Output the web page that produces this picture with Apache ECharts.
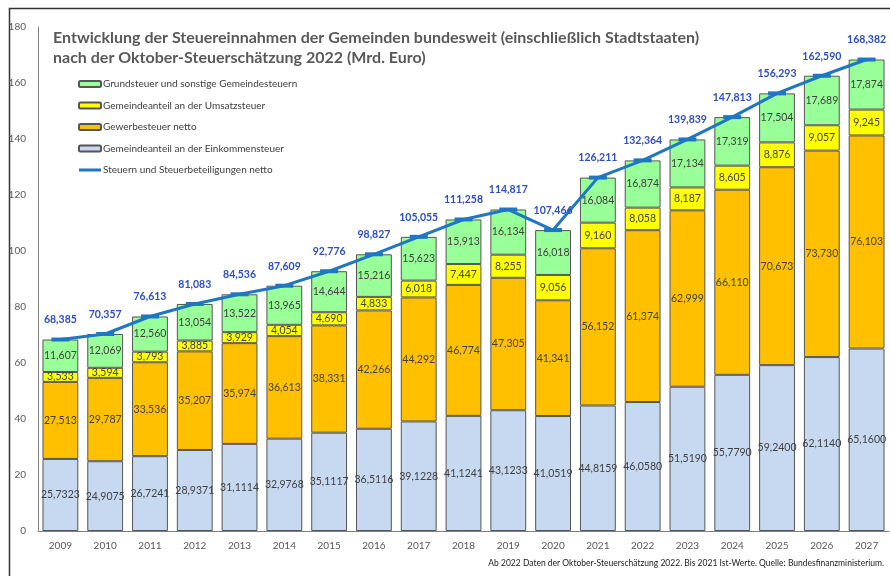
<!DOCTYPE html>
<html>
<head>
<meta charset="utf-8">
<script src="https://cdn.jsdelivr.net/npm/echarts@6/dist/echarts.min.js"></script>
<style>
  html, body { margin: 0; padding: 0; background: #fff; }
  #chart { width: 890px; height: 576px; }
</style>
</head>
<body>
<div id="chart"></div>
<script>
// Jahre
var years = ["2009", "2010", "2011", "2012", "2013", "2014", "2015", "2016", "2017", "2018",
  "2019", "2020", "2021", "2022", "2023", "2024", "2025", "2026", "2027"];
// Gemeindeanteil an der Einkommensteuer
var einkommen = [25.7323, 24.9075, 26.7241, 28.9371, 31.1114, 32.9768, 35.1117, 36.5116, 39.1228, 41.1241,
  43.1233, 41.0519, 44.8159, 46.0580, 51.5190, 55.7790, 59.2400, 62.1140, 65.1600];
// Gewerbesteuer netto
var gewerbe = [27.513, 29.787, 33.536, 35.207, 35.974, 36.613, 38.331, 42.266, 44.292, 46.774,
  47.305, 41.341, 56.152, 61.374, 62.999, 66.110, 70.673, 73.730, 76.103];
// Gemeindeanteil an der Umsatzsteuer
var umsatz = [3.533, 3.594, 3.793, 3.885, 3.929, 4.054, 4.690, 4.833, 6.018, 7.447,
  8.255, 9.056, 9.160, 8.058, 8.187, 8.605, 8.876, 9.057, 9.245];
// Grundsteuer und sonstige Gemeindesteuern
var grund = [11.607, 12.069, 12.560, 13.054, 13.522, 13.965, 14.644, 15.216, 15.623, 15.913,
  16.134, 16.018, 16.084, 16.874, 17.134, 17.319, 17.504, 17.689, 17.874];
// Steuern und Steuerbeteiligungen netto
var gesamt = [68.385, 70.357, 76.613, 81.083, 84.536, 87.609, 92.776, 98.827, 105.055, 111.258,
  114.817, 107.466, 126.211, 132.364, 139.839, 147.813, 156.293, 162.590, 168.382];

var yTicks = [0, 20, 40, 60, 80, 100, 120, 140, 160, 180];

var FONT = "Lato";

function fmt(v, d) {
  return v.toFixed(d).replace(".", ",");
}

function barSeries(name, data, color, dec) {
  return {
    name: name,
    type: "bar",
    stack: "summe",
    data: data,
    barWidth: "80%",
    itemStyle: { color: color, borderColor: "#555", borderWidth: 1 },
    label: {
      show: true,
      position: "inside",
      color: "#404040",
      fontFamily: FONT,
      fontSize: 10.5,
      formatter: function (p) { return fmt(p.value, dec); }
    }
  };
}

var chart = echarts.init(document.getElementById("chart"));
var option = {
  animation: false,
  textStyle: { fontFamily: FONT },
  title: {
    text: "Entwicklung der Steuereinnahmen der Gemeinden bundesweit (einschließlich Stadtstaaten)\nnach der Oktober-Steuerschätzung 2022 (Mrd. Euro)",
    left: 48,
    top: 23,
    textStyle: { color: "#595959", fontSize: 16, fontWeight: "bold", lineHeight: 20, fontFamily: FONT }
  },
  legend: {
    orient: "vertical",
    left: 73,
    top: 74,
    itemGap: 11.5,
    itemWidth: 22,
    itemHeight: 6,
    textStyle: { color: "#404040", fontSize: 10, fontFamily: FONT, padding: [0, 0, 0, -3] },
    data: [
      { name: "Grundsteuer und sonstige Gemeindesteuern" },
      { name: "Gemeindeanteil an der Umsatzsteuer" },
      { name: "Gewerbesteuer netto" },
      { name: "Gemeindeanteil an der Einkommensteuer" },
      { name: "Steuern und Steuerbeteiligungen netto", icon: "path://M0,0 L22,0 L22,3 L0,3 Z", itemStyle: { color: "#1F77C4", borderWidth: 0 } }
    ]
  },
  grid: { left: 38, right: 1, top: 27, bottom: 45 },
  xAxis: {
    type: "category",
    data: years,
    axisLine: { lineStyle: { color: "#808080" } },
    axisTick: { show: false },
    axisLabel: { color: "#595959", fontSize: 10, margin: 10 }
  },
  yAxis: {
    type: "value",
    min: yTicks[0],
    max: yTicks[yTicks.length - 1],
    interval: 20,
    splitLine: { show: false },
    axisLine: { show: true, lineStyle: { color: "#808080" } },
    axisTick: { show: false },
    axisLabel: { color: "#595959", fontSize: 10, margin: 12 }
  },
  series: [
    barSeries("Gemeindeanteil an der Einkommensteuer", einkommen, "#C6D9F1", 4),
    barSeries("Gewerbesteuer netto", gewerbe, "#FFC000", 3),
    barSeries("Gemeindeanteil an der Umsatzsteuer", umsatz, "#FFFF00", 3),
    barSeries("Grundsteuer und sonstige Gemeindesteuern", grund, "#99FF99", 3),
    {
      name: "Steuern und Steuerbeteiligungen netto",
      type: "line",
      data: gesamt,
      z: 5,
      symbol: "rect",
      symbolSize: [18, 4],
      lineStyle: { color: "#1F77C4", width: 3 },
      itemStyle: { color: "#1F77C4" },
      label: {
        show: true,
        position: "top",
        distance: 12,
        color: "#2E4FBF",
        fontWeight: "bold",
        fontSize: 10.5,
        fontFamily: FONT,
        formatter: function (p) { return fmt(p.value, 3); }
      }
    }
  ],
  graphic: [
    {
      type: "polyline",
      shape: { points: [[9.5, 576], [9.5, 8.5], [890, 8.5]] },
      style: { stroke: "#333", lineWidth: 1.5, fill: null }
    },
    {
      // Quellenangabe
      type: "text",
      right: 6,
      top: 559,
      style: {
        text: "Ab 2022 Daten der Oktober-Steuerschätzung 2022. Bis 2021 Ist-Werte. Quelle: Bundesfinanzministerium.",
        fill: "#222",
        font: "8.5px " + FONT
      }
    }
  ]
};
chart.setOption(option);
</script>
</body>
</html>
